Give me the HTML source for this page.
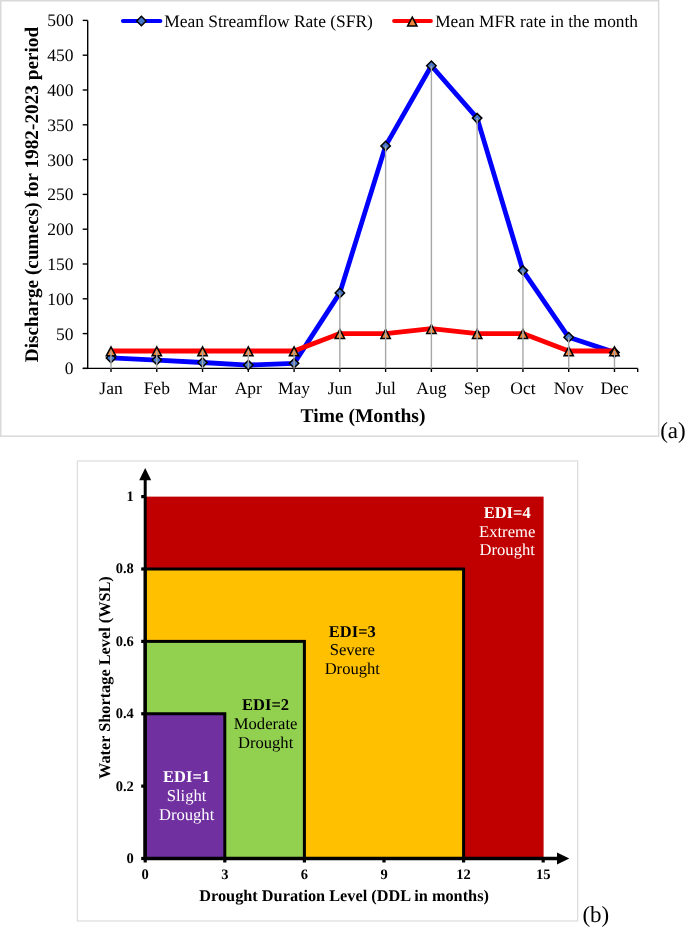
<!DOCTYPE html>
<html><head><meta charset="utf-8"><style>
html,body{margin:0;padding:0;background:#fff;}
body{width:685px;height:927px;overflow:hidden;}
svg{display:block;font-family:"Liberation Serif", serif;text-rendering:geometricPrecision;will-change:transform;}
</style></head><body>
<svg width="685" height="927" viewBox="0 0 685 927">
<rect x="0.75" y="0.75" width="657.9" height="435.4" fill="#fff" stroke="#d9d9d9" stroke-width="1.5"/>
<line x1="87.7" y1="20.399999999999977" x2="87.7" y2="368.4" stroke="#000" stroke-width="1.4"/>
<line x1="82.7" y1="368.4" x2="637.7" y2="368.4" stroke="#000" stroke-width="1.4"/>
<line x1="82.7" y1="368.40" x2="87.7" y2="368.40" stroke="#000" stroke-width="1.4"/>
<text x="73.6" y="374.30" text-anchor="end" font-size="17.5">0</text>
<line x1="82.7" y1="333.60" x2="87.7" y2="333.60" stroke="#000" stroke-width="1.4"/>
<text x="73.6" y="339.50" text-anchor="end" font-size="17.5">50</text>
<line x1="82.7" y1="298.80" x2="87.7" y2="298.80" stroke="#000" stroke-width="1.4"/>
<text x="73.6" y="304.70" text-anchor="end" font-size="17.5">100</text>
<line x1="82.7" y1="264.00" x2="87.7" y2="264.00" stroke="#000" stroke-width="1.4"/>
<text x="73.6" y="269.90" text-anchor="end" font-size="17.5">150</text>
<line x1="82.7" y1="229.20" x2="87.7" y2="229.20" stroke="#000" stroke-width="1.4"/>
<text x="73.6" y="235.10" text-anchor="end" font-size="17.5">200</text>
<line x1="82.7" y1="194.40" x2="87.7" y2="194.40" stroke="#000" stroke-width="1.4"/>
<text x="73.6" y="200.30" text-anchor="end" font-size="17.5">250</text>
<line x1="82.7" y1="159.60" x2="87.7" y2="159.60" stroke="#000" stroke-width="1.4"/>
<text x="73.6" y="165.50" text-anchor="end" font-size="17.5">300</text>
<line x1="82.7" y1="124.80" x2="87.7" y2="124.80" stroke="#000" stroke-width="1.4"/>
<text x="73.6" y="130.70" text-anchor="end" font-size="17.5">350</text>
<line x1="82.7" y1="90.00" x2="87.7" y2="90.00" stroke="#000" stroke-width="1.4"/>
<text x="73.6" y="95.90" text-anchor="end" font-size="17.5">400</text>
<line x1="82.7" y1="55.20" x2="87.7" y2="55.20" stroke="#000" stroke-width="1.4"/>
<text x="73.6" y="61.10" text-anchor="end" font-size="17.5">450</text>
<line x1="82.7" y1="20.40" x2="87.7" y2="20.40" stroke="#000" stroke-width="1.4"/>
<text x="73.6" y="26.30" text-anchor="end" font-size="17.5">500</text>
<line x1="111.00" y1="368.4" x2="111.00" y2="372.0" stroke="#000" stroke-width="1.4"/>
<line x1="156.77" y1="368.4" x2="156.77" y2="372.0" stroke="#000" stroke-width="1.4"/>
<line x1="202.54" y1="368.4" x2="202.54" y2="372.0" stroke="#000" stroke-width="1.4"/>
<line x1="248.31" y1="368.4" x2="248.31" y2="372.0" stroke="#000" stroke-width="1.4"/>
<line x1="294.08" y1="368.4" x2="294.08" y2="372.0" stroke="#000" stroke-width="1.4"/>
<line x1="339.85" y1="368.4" x2="339.85" y2="372.0" stroke="#000" stroke-width="1.4"/>
<line x1="385.62" y1="368.4" x2="385.62" y2="372.0" stroke="#000" stroke-width="1.4"/>
<line x1="431.39" y1="368.4" x2="431.39" y2="372.0" stroke="#000" stroke-width="1.4"/>
<line x1="477.16" y1="368.4" x2="477.16" y2="372.0" stroke="#000" stroke-width="1.4"/>
<line x1="522.93" y1="368.4" x2="522.93" y2="372.0" stroke="#000" stroke-width="1.4"/>
<line x1="568.70" y1="368.4" x2="568.70" y2="372.0" stroke="#000" stroke-width="1.4"/>
<line x1="614.47" y1="368.4" x2="614.47" y2="372.0" stroke="#000" stroke-width="1.4"/>
<line x1="637.7" y1="368.4" x2="637.7" y2="372.0" stroke="#000" stroke-width="1.4"/>
<text x="111.00" y="394.3" text-anchor="middle" font-size="17.5">Jan</text>
<text x="156.77" y="394.3" text-anchor="middle" font-size="17.5">Feb</text>
<text x="202.54" y="394.3" text-anchor="middle" font-size="17.5">Mar</text>
<text x="248.31" y="394.3" text-anchor="middle" font-size="17.5">Apr</text>
<text x="294.08" y="394.3" text-anchor="middle" font-size="17.5">May</text>
<text x="339.85" y="394.3" text-anchor="middle" font-size="17.5">Jun</text>
<text x="385.62" y="394.3" text-anchor="middle" font-size="17.5">Jul</text>
<text x="431.39" y="394.3" text-anchor="middle" font-size="17.5">Aug</text>
<text x="477.16" y="394.3" text-anchor="middle" font-size="17.5">Sep</text>
<text x="522.93" y="394.3" text-anchor="middle" font-size="17.5">Oct</text>
<text x="568.70" y="394.3" text-anchor="middle" font-size="17.5">Nov</text>
<text x="614.47" y="394.3" text-anchor="middle" font-size="17.5">Dec</text>
<polyline points="111.00,357.96 156.77,360.05 202.54,362.48 248.31,365.06 294.08,363.32 339.85,292.88 385.62,145.89 431.39,65.78 477.16,118.12 522.93,270.61 568.70,337.29 614.47,352.39" fill="none" stroke="#0000ff" stroke-width="4.8" stroke-linejoin="round"/>
<polyline points="111.00,351.00 156.77,351.00 202.54,351.00 248.31,351.00 294.08,351.00 339.85,333.60 385.62,333.60 431.39,328.73 477.16,333.60 522.93,333.60 568.70,351.00 614.47,351.00" fill="none" stroke="#ff0000" stroke-width="4.8" stroke-linejoin="round"/>
<path d="M111.00,353.26 L115.70,357.96 L111.00,362.66 L106.30,357.96 Z" fill="#4676c8" stroke="#000" stroke-width="1.5" stroke-linejoin="miter"/>
<path d="M156.77,355.35 L161.47,360.05 L156.77,364.75 L152.07,360.05 Z" fill="#4676c8" stroke="#000" stroke-width="1.5" stroke-linejoin="miter"/>
<path d="M202.54,357.78 L207.24,362.48 L202.54,367.18 L197.84,362.48 Z" fill="#4676c8" stroke="#000" stroke-width="1.5" stroke-linejoin="miter"/>
<path d="M248.31,360.36 L253.01,365.06 L248.31,369.76 L243.61,365.06 Z" fill="#4676c8" stroke="#000" stroke-width="1.5" stroke-linejoin="miter"/>
<path d="M294.08,358.62 L298.78,363.32 L294.08,368.02 L289.38,363.32 Z" fill="#4676c8" stroke="#000" stroke-width="1.5" stroke-linejoin="miter"/>
<path d="M339.85,288.18 L344.55,292.88 L339.85,297.58 L335.15,292.88 Z" fill="#4676c8" stroke="#000" stroke-width="1.5" stroke-linejoin="miter"/>
<path d="M385.62,141.19 L390.32,145.89 L385.62,150.59 L380.92,145.89 Z" fill="#4676c8" stroke="#000" stroke-width="1.5" stroke-linejoin="miter"/>
<path d="M431.39,61.08 L436.09,65.78 L431.39,70.48 L426.69,65.78 Z" fill="#4676c8" stroke="#000" stroke-width="1.5" stroke-linejoin="miter"/>
<path d="M477.16,113.42 L481.86,118.12 L477.16,122.82 L472.46,118.12 Z" fill="#4676c8" stroke="#000" stroke-width="1.5" stroke-linejoin="miter"/>
<path d="M522.93,265.91 L527.63,270.61 L522.93,275.31 L518.23,270.61 Z" fill="#4676c8" stroke="#000" stroke-width="1.5" stroke-linejoin="miter"/>
<path d="M568.70,332.59 L573.40,337.29 L568.70,341.99 L564.00,337.29 Z" fill="#4676c8" stroke="#000" stroke-width="1.5" stroke-linejoin="miter"/>
<path d="M614.47,347.69 L619.17,352.39 L614.47,357.09 L609.77,352.39 Z" fill="#4676c8" stroke="#000" stroke-width="1.5" stroke-linejoin="miter"/>
<path d="M111.00,346.80 L115.70,355.80 L106.30,355.80 Z" fill="#ee8538" stroke="#000" stroke-width="1.5" stroke-linejoin="miter"/>
<path d="M156.77,346.80 L161.47,355.80 L152.07,355.80 Z" fill="#ee8538" stroke="#000" stroke-width="1.5" stroke-linejoin="miter"/>
<path d="M202.54,346.80 L207.24,355.80 L197.84,355.80 Z" fill="#ee8538" stroke="#000" stroke-width="1.5" stroke-linejoin="miter"/>
<path d="M248.31,346.80 L253.01,355.80 L243.61,355.80 Z" fill="#ee8538" stroke="#000" stroke-width="1.5" stroke-linejoin="miter"/>
<path d="M294.08,346.80 L298.78,355.80 L289.38,355.80 Z" fill="#ee8538" stroke="#000" stroke-width="1.5" stroke-linejoin="miter"/>
<path d="M339.85,329.40 L344.55,338.40 L335.15,338.40 Z" fill="#ee8538" stroke="#000" stroke-width="1.5" stroke-linejoin="miter"/>
<path d="M385.62,329.40 L390.32,338.40 L380.92,338.40 Z" fill="#ee8538" stroke="#000" stroke-width="1.5" stroke-linejoin="miter"/>
<path d="M431.39,324.53 L436.09,333.53 L426.69,333.53 Z" fill="#ee8538" stroke="#000" stroke-width="1.5" stroke-linejoin="miter"/>
<path d="M477.16,329.40 L481.86,338.40 L472.46,338.40 Z" fill="#ee8538" stroke="#000" stroke-width="1.5" stroke-linejoin="miter"/>
<path d="M522.93,329.40 L527.63,338.40 L518.23,338.40 Z" fill="#ee8538" stroke="#000" stroke-width="1.5" stroke-linejoin="miter"/>
<path d="M568.70,346.80 L573.40,355.80 L564.00,355.80 Z" fill="#ee8538" stroke="#000" stroke-width="1.5" stroke-linejoin="miter"/>
<path d="M614.47,346.80 L619.17,355.80 L609.77,355.80 Z" fill="#ee8538" stroke="#000" stroke-width="1.5" stroke-linejoin="miter"/>
<line x1="111.00" y1="351.00" x2="111.00" y2="368.4" stroke="#a8a8a8" stroke-width="1.4"/>
<line x1="156.77" y1="351.00" x2="156.77" y2="368.4" stroke="#a8a8a8" stroke-width="1.4"/>
<line x1="202.54" y1="351.00" x2="202.54" y2="368.4" stroke="#a8a8a8" stroke-width="1.4"/>
<line x1="248.31" y1="351.00" x2="248.31" y2="368.4" stroke="#a8a8a8" stroke-width="1.4"/>
<line x1="294.08" y1="351.00" x2="294.08" y2="368.4" stroke="#a8a8a8" stroke-width="1.4"/>
<line x1="339.85" y1="292.88" x2="339.85" y2="368.4" stroke="#a8a8a8" stroke-width="1.4"/>
<line x1="385.62" y1="145.89" x2="385.62" y2="368.4" stroke="#a8a8a8" stroke-width="1.4"/>
<line x1="431.39" y1="65.78" x2="431.39" y2="368.4" stroke="#a8a8a8" stroke-width="1.4"/>
<line x1="477.16" y1="118.12" x2="477.16" y2="368.4" stroke="#a8a8a8" stroke-width="1.4"/>
<line x1="522.93" y1="270.61" x2="522.93" y2="368.4" stroke="#a8a8a8" stroke-width="1.4"/>
<line x1="568.70" y1="337.29" x2="568.70" y2="368.4" stroke="#a8a8a8" stroke-width="1.4"/>
<line x1="614.47" y1="351.00" x2="614.47" y2="368.4" stroke="#a8a8a8" stroke-width="1.4"/>
<line x1="123" y1="21" x2="160.3" y2="21" stroke="#0000ff" stroke-width="4.2" stroke-linecap="round"/>
<path d="M141.40,16.30 L146.10,21.00 L141.40,25.70 L136.70,21.00 Z" fill="#4676c8" stroke="#000" stroke-width="1.5" stroke-linejoin="miter"/>
<text x="164.2" y="26.8" font-size="17.45">Mean Streamflow Rate (SFR)</text>
<line x1="394.2" y1="21" x2="430.8" y2="21" stroke="#ff0000" stroke-width="4.2" stroke-linecap="round"/>
<path d="M412.30,17.10 L417.00,26.10 L407.60,26.10 Z" fill="#ee8538" stroke="#000" stroke-width="1.5" stroke-linejoin="miter"/>
<text x="435.2" y="26.8" font-size="17.35">Mean MFR rate in the month</text>
<text x="363" y="421.5" text-anchor="middle" font-size="19.5" font-weight="bold">Time (Months)</text>
<text transform="translate(37.8,194.5) rotate(-90)" x="0" y="0" text-anchor="middle" font-size="19.25" font-weight="bold">Discharge (cumecs) for 1982-2023 period</text>
<text x="660.2" y="437.9" font-size="23">(a)</text>
<rect x="77.3" y="461" width="500.4" height="460" fill="#fff" stroke="#d9d9d9" stroke-width="1.1"/>
<rect x="145.2" y="496.62" width="398.40" height="361.88" fill="#c00000"/>
<rect x="145.2" y="569.00" width="318.40" height="289.50" fill="#ffc000" stroke="#000" stroke-width="3"/>
<rect x="145.2" y="641.38" width="159.20" height="217.12" fill="#92d050" stroke="#000" stroke-width="3"/>
<rect x="145.2" y="713.75" width="79.60" height="144.75" fill="#7030a0" stroke="#000" stroke-width="3"/>
<line x1="145.2" y1="860.0" x2="145.2" y2="479" stroke="#000" stroke-width="3"/>
<path d="M145.2,468.1 L151.2,480.3 L139.2,480.3 Z" fill="#000"/>
<line x1="143.7" y1="858.5" x2="558" y2="858.5" stroke="#000" stroke-width="3.4"/>
<path d="M569.3,858.5 L557,852.5 L557,864.5 Z" fill="#000"/>
<line x1="141.2" y1="858.50" x2="145.2" y2="858.50" stroke="#000" stroke-width="3.2"/>
<text x="133.8" y="862.90" text-anchor="end" font-size="14.5" font-weight="bold">0</text>
<line x1="141.2" y1="786.12" x2="145.2" y2="786.12" stroke="#000" stroke-width="3.2"/>
<text x="133.8" y="790.52" text-anchor="end" font-size="14.5" font-weight="bold">0.2</text>
<line x1="141.2" y1="713.75" x2="145.2" y2="713.75" stroke="#000" stroke-width="3.2"/>
<text x="133.8" y="718.15" text-anchor="end" font-size="14.5" font-weight="bold">0.4</text>
<line x1="141.2" y1="641.38" x2="145.2" y2="641.38" stroke="#000" stroke-width="3.2"/>
<text x="133.8" y="645.77" text-anchor="end" font-size="14.5" font-weight="bold">0.6</text>
<line x1="141.2" y1="569.00" x2="145.2" y2="569.00" stroke="#000" stroke-width="3.2"/>
<text x="133.8" y="573.40" text-anchor="end" font-size="14.5" font-weight="bold">0.8</text>
<line x1="141.2" y1="496.62" x2="145.2" y2="496.62" stroke="#000" stroke-width="3.2"/>
<text x="133.8" y="501.02" text-anchor="end" font-size="14.5" font-weight="bold">1</text>
<line x1="145.20" y1="858.5" x2="145.20" y2="862.5" stroke="#000" stroke-width="3.2"/>
<text x="145.20" y="879.3" text-anchor="middle" font-size="14.5" font-weight="bold">0</text>
<line x1="224.80" y1="858.5" x2="224.80" y2="862.5" stroke="#000" stroke-width="3.2"/>
<text x="224.80" y="879.3" text-anchor="middle" font-size="14.5" font-weight="bold">3</text>
<line x1="304.40" y1="858.5" x2="304.40" y2="862.5" stroke="#000" stroke-width="3.2"/>
<text x="304.40" y="879.3" text-anchor="middle" font-size="14.5" font-weight="bold">6</text>
<line x1="384.00" y1="858.5" x2="384.00" y2="862.5" stroke="#000" stroke-width="3.2"/>
<text x="384.00" y="879.3" text-anchor="middle" font-size="14.5" font-weight="bold">9</text>
<line x1="463.60" y1="858.5" x2="463.60" y2="862.5" stroke="#000" stroke-width="3.2"/>
<text x="463.60" y="879.3" text-anchor="middle" font-size="14.5" font-weight="bold">12</text>
<line x1="543.20" y1="858.5" x2="543.20" y2="862.5" stroke="#000" stroke-width="3.2"/>
<text x="543.20" y="879.3" text-anchor="middle" font-size="14.5" font-weight="bold">15</text>
<text x="344.1" y="900.7" text-anchor="middle" font-size="16.3" font-weight="bold">Drought Duration Level (DDL in months)</text>
<text transform="translate(109.9,677.6) rotate(-90)" text-anchor="middle" font-size="16.3" font-weight="bold">Water Shortage Level (WSL)</text>
<text x="507.2" y="517.6" text-anchor="middle" font-size="16.5" font-weight="bold" fill="#fff">EDI=4</text><text x="507.2" y="536.5" text-anchor="middle" font-size="16.6" fill="#fff">Extreme</text><text x="507.2" y="555.4" text-anchor="middle" font-size="16.6" fill="#fff">Drought</text>
<text x="352.3" y="636.5" text-anchor="middle" font-size="16.5" font-weight="bold" fill="#000">EDI=3</text><text x="352.3" y="655.4" text-anchor="middle" font-size="16.6" fill="#000">Severe</text><text x="352.3" y="674.3" text-anchor="middle" font-size="16.6" fill="#000">Drought</text>
<text x="265.6" y="710.0" text-anchor="middle" font-size="16.5" font-weight="bold" fill="#000">EDI=2</text><text x="265.6" y="728.9" text-anchor="middle" font-size="16.6" fill="#000">Moderate</text><text x="265.6" y="747.8" text-anchor="middle" font-size="16.6" fill="#000">Drought</text>
<text x="186.6" y="781.9" text-anchor="middle" font-size="16.5" font-weight="bold" fill="#fff">EDI=1</text><text x="186.6" y="800.8" text-anchor="middle" font-size="16.6" fill="#fff">Slight</text><text x="186.6" y="819.7" text-anchor="middle" font-size="16.6" fill="#fff">Drought</text>
<text x="582.4" y="921.9" font-size="23">(b)</text>
</svg>
</body></html>
